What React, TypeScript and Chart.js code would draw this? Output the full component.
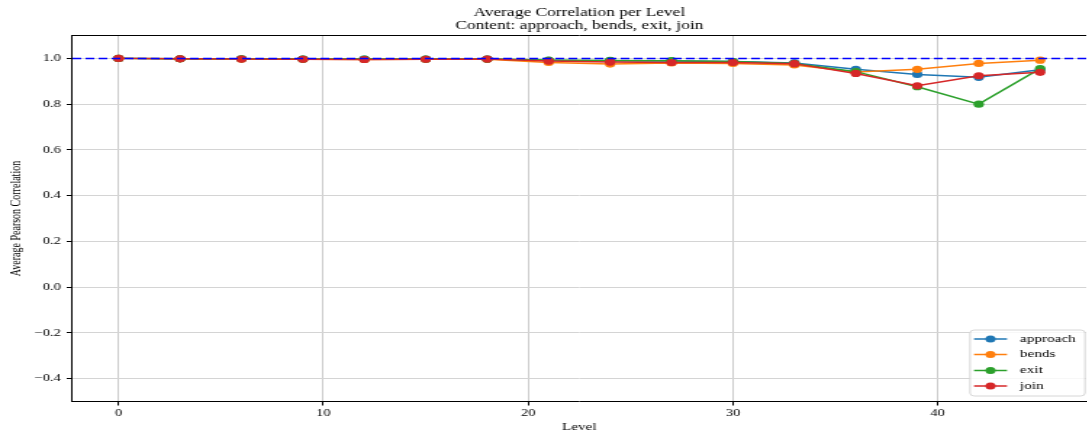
import React, { useEffect, useRef } from 'react';
import { Chart, registerables } from 'chart.js';

Chart.register(...registerables);

// ---------------- data ----------------
const levels = [0, 3, 6, 9, 12, 15, 18, 21, 24, 27, 30, 33, 36, 39, 42, 45];
const approach = [1.0, 0.998, 0.998, 0.997, 0.997, 0.997, 0.997, 0.991, 0.99, 0.988, 0.986, 0.98, 0.952, 0.93, 0.917, 0.95];
const bends = [1.0, 0.998, 0.997, 0.996, 0.995, 0.996, 0.996, 0.982, 0.975, 0.98, 0.978, 0.971, 0.94, 0.952, 0.978, 0.992];
const exitVals = [1.0, 0.998, 0.998, 0.997, 0.997, 0.997, 0.997, 0.993, 0.991, 0.99, 0.986, 0.978, 0.942, 0.876, 0.8, 0.955];
const join = [1.0, 0.998, 0.997, 0.996, 0.995, 0.996, 0.997, 0.988, 0.984, 0.982, 0.982, 0.977, 0.934, 0.88, 0.924, 0.939];

const seriesNames = ['approach', 'bends', 'exit', 'join'];
const seriesValues = [approach, bends, exitVals, join];
const seriesColors = ['#1f77b4', '#ff7f0e', '#2ca02c', '#d62728'];

const refValue = 1.0;
const xRange = [-2.25, 47.25];
const yRange = [-0.5, 1.1];
const xTicks = [0, 10, 20, 30, 40];
const yTicks = [-0.4, -0.2, 0.0, 0.2, 0.4, 0.6, 0.8, 1.0];

const titleLines = ['Average Correlation per Level', 'Content: approach, bends, exit, join'];
const xLabel = 'Level';
const yLabel = 'Average Pearson Correlation';

// ---------------- layout ----------------
const FONT = '"Liberation Serif", "Times New Roman", serif';
const CSS_W = 1092;
const H = 439;
const NW = 753; // native canvas width, stretched horizontally to CSS_W
const S = CSS_W / NW;

const AREA_LEFT = 72.5;
const AREA_RIGHT = 1090;
const AREA_TOP = 35.5;
const AREA_BOTTOM = 401.5;

const decorPlugin = {
  id: 'decor',
  afterDraw(chart: any) {
    const { ctx, chartArea } = chart;
    const { left, right, top, bottom } = chartArea;
    ctx.save();
    // frame (top spine)
    ctx.strokeStyle = '#000';
    ctx.lineWidth = 1;
    ctx.beginPath();
    ctx.moveTo(left, top);
    ctx.lineTo(right, top);
    ctx.stroke();

    // title
    ctx.fillStyle = '#000';
    ctx.font = `12px ${FONT}`;
    ctx.textAlign = 'center';
    ctx.textBaseline = 'middle';
    const cx = (left + right) / 2;
    ctx.fillText(titleLines[0], cx, 13);
    ctx.fillText(titleLines[1], cx, 25.5);

    // legend
    const bx0 = 970 / S, bx1 = 1085 / S, by0 = 330, by1 = 396;
    const r = 3;
    ctx.beginPath();
    ctx.moveTo(bx0 + r, by0);
    ctx.lineTo(bx1 - r, by0);
    ctx.quadraticCurveTo(bx1, by0, bx1, by0 + r);
    ctx.lineTo(bx1, by1 - r);
    ctx.quadraticCurveTo(bx1, by1, bx1 - r, by1);
    ctx.lineTo(bx0 + r, by1);
    ctx.quadraticCurveTo(bx0, by1, bx0, by1 - r);
    ctx.lineTo(bx0, by0 + r);
    ctx.quadraticCurveTo(bx0, by0, bx0 + r, by0);
    ctx.closePath();
    ctx.fillStyle = 'rgba(255,255,255,0.8)';
    ctx.fill();
    ctx.strokeStyle = '#d6d6d6';
    ctx.lineWidth = 1;
    ctx.stroke();

    const rows = [339, 354.5, 370.5, 386];
    seriesNames.forEach((name, i) => {
      const y = rows[i];
      ctx.strokeStyle = seriesColors[i];
      ctx.lineWidth = 1.5;
      ctx.beginPath();
      ctx.moveTo(974 / S, y);
      ctx.lineTo(1007 / S, y);
      ctx.stroke();
      ctx.fillStyle = seriesColors[i];
      ctx.beginPath();
      ctx.arc(990.5 / S, y, 3.5, 0, Math.PI * 2);
      ctx.fill();
      ctx.fillStyle = '#000';
      ctx.font = `10.5px ${FONT}`;
      ctx.textAlign = 'left';
      ctx.textBaseline = 'middle';
      ctx.fillText(name, 1020 / S, y);
    });
    ctx.restore();
  },
};

export default function App() {
  const canvasRef = useRef<HTMLCanvasElement | null>(null);

  useEffect(() => {
    const canvas = canvasRef.current;
    if (!canvas) return;
    document.body.style.margin = '0';

    const datasets: any[] = seriesNames.map((name, i) => ({
      label: name,
      data: levels.map((x, j) => ({ x, y: seriesValues[i][j] })),
      borderColor: seriesColors[i],
      backgroundColor: seriesColors[i],
      pointBackgroundColor: seriesColors[i],
      pointBorderColor: seriesColors[i],
      pointBorderWidth: 0,
      pointRadius: 3.6,
      borderWidth: 1.5,
      tension: 0,
      order: 4 - i,
    }));
    datasets.push({
      label: 'reference',
      data: [
        { x: xRange[0], y: refValue },
        { x: xRange[1], y: refValue },
      ],
      borderColor: '#0000ff',
      borderWidth: 1.5,
      borderDash: [6, 3],
      pointRadius: 0,
      order: 0,
    });

    const chart = new Chart(canvas, {
      type: 'line',
      data: { datasets },
      plugins: [decorPlugin],
      options: {
        responsive: false,
        animation: false,
        devicePixelRatio: 1,
        layout: {
          padding: { top: AREA_TOP, left: 0, right: NW - AREA_RIGHT / S, bottom: 0 },
        },
        plugins: {
          legend: { display: false },
          tooltip: { enabled: false },
          title: { display: false },
        },
        scales: {
          x: {
            type: 'linear',
            min: xRange[0],
            max: xRange[1],
            afterBuildTicks: (s: any) => {
              s.ticks = xTicks.map((v) => ({ value: v }));
            },
            afterFit: (s: any) => {
              s.height = H - AREA_BOTTOM;
            },
            ticks: {
              autoSkip: false,
              maxRotation: 0,
              padding: 2,
              color: '#000',
              font: { family: FONT, size: 10 },
              callback: (v: any) => String(v),
            },
            grid: { color: '#cccccc', lineWidth: 1, tickColor: '#000', tickLength: 4 },
            border: { color: '#000', width: 1 },
            title: {
              display: true,
              text: xLabel,
              color: '#000',
              font: { family: FONT, size: 10.5 },
              padding: { top: 0, bottom: 5 },
            },
          },
          y: {
            type: 'linear',
            min: yRange[0],
            max: yRange[1],
            afterBuildTicks: (s: any) => {
              s.ticks = yTicks.map((v) => ({ value: v }));
            },
            afterFit: (s: any) => {
              s.width = AREA_LEFT / S;
            },
            ticks: {
              autoSkip: false,
              padding: 4,
              color: '#000',
              font: { family: FONT, size: 10 },
              callback: (v: any) => Number(v).toFixed(1).replace('-', '\u2212'),
            },
            grid: { color: '#d4d4d4', lineWidth: 1, tickColor: '#000', tickLength: 4 },
            border: { color: '#000', width: 1 },
            title: {
              display: true,
              text: yLabel,
              color: '#000',
              font: { family: FONT, size: 10 },
              padding: { top: 5.7, bottom: 0 },
            },
          },
        },
      },
    });
    canvas.style.width = CSS_W + 'px';
    canvas.style.height = H + 'px';

    return () => {
      chart.destroy();
    };
  }, []);

  return (
    <div
      style={{
        position: 'fixed',
        left: 0,
        top: 0,
        width: 1087,
        height: H,
        overflow: 'hidden',
        background: '#fff',
      }}
    >
      <canvas
        ref={canvasRef}
        width={NW}
        height={H}
        style={{ display: 'block', width: CSS_W + 'px', height: H + 'px' }}
      />
    </div>
  );
}
